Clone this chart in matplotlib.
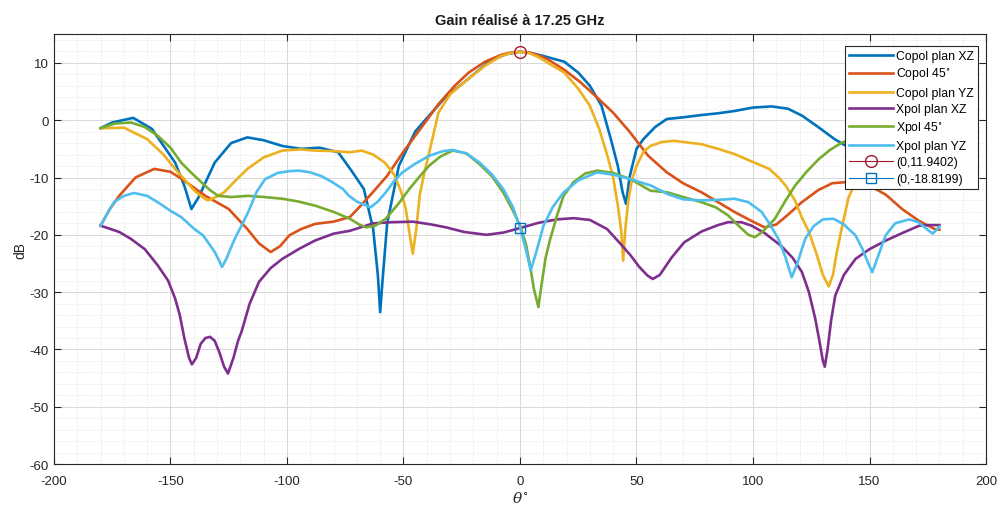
import numpy as np
import matplotlib
matplotlib.use("Agg")
import matplotlib.pyplot as plt
from matplotlib.ticker import MultipleLocator

plt.rcParams['font.family'] = ['Liberation Sans', 'DejaVu Sans']
plt.rcParams['mathtext.fontset'] = 'dejavuserif'
plt.rcParams['axes.unicode_minus'] = False

# ---- data (theta in degrees, gain in dB) ----
copol_xz_t = [-180, -175, -166, -158, -148, -144, -141, -138, -131, -124, -117, -110, -102, -94,
              -86, -78, -72, -67, -63, -61, -60, -59, -57, -52, -45, -39, -32, -24, -13, -6, 0, 5,
              10, 19, 25, 30, 35, 39, 42, 44, 45.5, 47, 50, 53, 58, 63, 70, 78, 85, 92, 100, 108,
              115, 121, 128, 135, 140, 150, 160, 170, 180]
copol_xz_g = [-1.4, -0.4, 0.4, -1.5, -7.4, -11.5, -15.5, -13.5, -7.4, -4.0, -3.0, -3.5, -4.5, -5.0,
              -4.8, -5.6, -9, -12, -19, -27, -33.5, -28, -18, -8, -2, 0.8, 4, 6.6, 10.3, 11.5, 11.94,
              11.7, 11.2, 10.2, 8.3, 6, 2.5, -3.3, -8, -12.5, -14.6, -10, -5, -3.3, -1.2, 0.2, 0.5,
              0.9, 1.2, 1.6, 2.2, 2.4, 2.0, 0.8, -1.2, -3.3, -4.5, -4, -3, -2, -1.4]

copol_45_t = [-180, -176, -172, -165, -157, -150, -145, -135, -125, -117, -112, -107, -103, -99, -94,
              -88, -80, -73, -69, -63, -57, -50, -46, -40, -35, -28, -22, -15, -8, -4, 0, 4, 8, 12,
              19, 26, 33, 40, 47, 55, 63, 70, 78, 85, 92, 99, 105, 110, 115, 121, 128, 134, 140,
              145, 150, 157, 164, 171, 178, 180]
copol_45_g = [-18.4, -15.5, -13.2, -10, -8.5, -9, -10.3, -13.2, -15.5, -19, -21.5, -23, -22, -20.1, -19,
              -18.1, -17.7, -16.9, -15.2, -12.5, -9.7, -5.5, -3.3, 0, 2.8, 6, 8.3, 10.2, 11.4, 11.8,
              11.94, 11.8, 11.3, 10.6, 8.8, 6.6, 4.0, 1.3, -2.0, -6.2, -9.1, -11, -12.6, -14.3, -16,
              -17.5, -18.7, -18.2, -16.5, -14.3, -12.2, -11, -10.8, -11, -11.4, -13, -15.5, -17.5,
              -19, -19.1]

copol_yz_t = [-180, -170, -160, -153, -148, -143, -139.7, -136, -134, -131, -127, -122, -117, -110,
              -102, -94, -88, -80, -73, -68, -63, -58, -54, -51, -49, -47.5, -46, -44.5, -43, -41,
              -38, -35, -30, -24, -15, -8, -4, 0, 4, 8, 14, 19, 25, 30, 34, 37.5, 40, 42, 43.5, 44.3,
              45.2, 46.5, 48, 50, 53, 56, 61, 66, 72, 78, 85, 92, 100, 107, 111, 114, 118, 121, 124,
              127, 130, 132.5, 134.3, 136, 138, 141, 144, 148, 155, 165, 175, 180]
copol_yz_g = [-1.4, -1.3, -3.3, -6, -8.5, -10.8, -12.3, -13.5, -14, -13.5, -12.6, -10.5, -8.5, -6.5,
              -5.3, -5.1, -5.3, -5.4, -5.6, -5.3, -6, -7.4, -9.5, -12.5, -15.5, -19.5, -23.3, -19,
              -13, -9.1, -4, 1.3, 4.5, 6.6, 9.5, 11.2, 11.7, 11.94, 11.7, 11, 9.5, 8.3, 5.5, 2.5,
              -1.5, -6.2, -10, -14.9, -19.5, -24.5, -19, -14, -10.5, -8, -5.5, -4.5, -3.8, -3.6,
              -3.9, -4.2, -5, -5.9, -7.3, -8.5, -10, -11.4, -14, -17, -19.5, -23, -27, -29, -27,
              -23, -19, -13.5, -10.8, -8, -5, -3, -1.4, -1.4]

xpol_xz_t = [-180, -172, -167, -161, -155.5, -151, -148, -146, -144, -142, -140.8, -139, -137, -135,
             -133, -131, -129, -127, -125.3, -123, -121, -119.5, -116, -112, -107, -102, -95, -88,
             -80, -73, -63, -55, -46, -38, -31.7, -24, -14.4, -7, 0, 8, 16, 23, 30, 37.4, 43, 47.5,
             51, 54.7, 57, 60, 65, 70.5, 78, 85, 89.3, 95, 99.4, 105, 112, 117, 121, 124, 126.7,
             128.5, 130, 130.8, 132, 133.5, 135.3, 139, 144, 150, 157, 164, 171.4, 176, 180]
xpol_xz_g = [-18.4, -19.5, -20.7, -22.5, -25.3, -28, -31.1, -34, -38.1, -41.5, -42.6, -41.5, -39, -38,
             -37.8, -38.5, -40.5, -43, -44.2, -41.5, -38.5, -36.9, -32, -28.2, -25.8, -24.2, -22.5,
             -21, -19.8, -19.3, -18, -17.8, -17.7, -18.2, -18.7, -19.5, -20, -19.6, -18.82, -17.9,
             -17.3, -17.1, -17.4, -19, -21.5, -23.6, -25.5, -27.1, -27.7, -27, -24, -21.3, -19.4,
             -18.3, -17.8, -17.8, -18.4, -19.7, -21.9, -24, -26.5, -30, -34.6, -38.5, -42, -43,
             -40, -35, -30.6, -27, -24.2, -22.5, -21, -19.7, -18.4, -18.3, -18.3]

xpol_45_t = [-180, -174, -167, -161, -155.5, -150, -145.4, -141, -136.8, -133, -129.6, -124, -116.6,
             -110, -102, -95, -88, -80, -73, -69, -66, -62, -57.6, -52, -47.5, -43, -38.9, -34,
             -28.8, -23, -17.3, -12, -7.2, -3, 0, 2.5, 4.3, 6, 7.9, 9.5, 11, 13, 16, 18.7, 23, 28,
             33.1, 40, 47.5, 56, 63.4, 70, 77.8, 84, 89.3, 94, 98, 100.8, 104, 109.4, 114, 118.1,
             123, 128.2, 133, 138.2, 145, 155, 165, 175, 180]
xpol_45_g = [-1.4, -0.6, -0.4, -1.2, -2.7, -4.8, -7.4, -9.2, -10.8, -12.2, -13.2, -13.4, -13.2, -13.4,
             -13.7, -14.2, -14.9, -16, -17.2, -18.2, -18.7, -18.4, -17.2, -14.5, -12, -9.8, -7.9,
             -6.3, -5.3, -5.8, -7.7, -9.8, -12.6, -15.8, -18.4, -21.5, -25.3, -29.5, -32.6, -28,
             -24, -20.7, -16.5, -13.2, -10.8, -9.3, -8.8, -9.2, -10.3, -12.3, -12.6, -13.4, -14.3,
             -15.2, -16.6, -18.5, -20, -20.4, -19.5, -17.2, -14, -11.4, -9, -6.8, -5.2, -3.9, -3,
             -2.3, -1.8, -1.5, -1.4]

xpol_yz_t = [-180, -177, -174.2, -170, -165.6, -160, -155.5, -150, -145.4, -139.7, -136, -133.9, -131,
             -129, -127.9, -126, -124, -122.4, -119, -116.6, -113, -109.4, -104, -99, -95, -90, -85,
             -80.6, -76, -73.4, -70, -67.7, -64.1, -61, -57.6, -54, -50.4, -45, -38.9, -33, -28.8,
             -23, -17.3, -12, -7.2, -3, 0, 2.5, 4.6, 7, 10.1, 14, 18.7, 25, 33.1, 40, 47.5, 56.2,
             63.4, 70, 77.8, 85, 92.1, 98, 103.7, 107, 110.9, 114, 116.6, 119, 122.4, 126, 130,
             134.6, 139, 144, 147, 149.5, 151.2, 153, 156.9, 161, 167, 171, 174, 177.1, 180]
xpol_yz_g = [-18.4, -16.2, -14.3, -13.2, -12.7, -13.2, -14.3, -15.8, -16.9, -19, -20.1, -21.3, -23,
             -24.6, -25.6, -24.2, -22.2, -20.7, -18, -16, -12.5, -10.3, -9.2, -8.9, -8.8, -9.1, -9.8,
             -10.8, -12, -13.2, -14.2, -14.6, -15.2, -14.2, -12.6, -10.6, -9.1, -7.6, -6.2, -5.4,
             -5.2, -5.8, -7.4, -9.5, -12, -15.2, -18.7, -22.5, -26.2, -23, -18.4, -15.2, -12.6,
             -10.5, -9.1, -9.5, -10.3, -11.4, -12.9, -13.8, -14, -13.9, -13.7, -14.3, -16, -18,
             -20.7, -24, -27.4, -25, -20.7, -18.5, -17.3, -17.2, -18.2, -20.1, -22.5, -25, -26.5,
             -24.5, -20.1, -18, -17.3, -17.8, -18.8, -19.8, -18.6]

series = [
    ("Copol plan XZ", copol_xz_t, copol_xz_g, "#0072BD"),
    ("Copol 45$^{\\circ}$", copol_45_t, copol_45_g, "#D95319"),
    ("Copol plan YZ", copol_yz_t, copol_yz_g, "#EDB120"),
    ("Xpol plan XZ", xpol_xz_t, xpol_xz_g, "#7E2F8E"),
    ("Xpol 45$^{\\circ}$", xpol_45_t, xpol_45_g, "#77AC30"),
    ("Xpol plan YZ", xpol_yz_t, xpol_yz_g, "#4DBEEE"),
]

peak_pt = (0, 11.9402)
xpol_pt = (0, -18.8199)

fig = plt.figure(figsize=(9.99, 5.10), dpi=100)
ax = fig.add_axes([0.054, 0.088, 0.933, 0.843])

for name, t, g, c in series:
    ax.plot(t, g, color=c, lw=1.9, label=name, solid_joinstyle='round')

ax.plot([peak_pt[0]], [peak_pt[1]], '-o', color='#A2142F', lw=0.8, ms=8.5,
        mfc='none', mew=1.0, label="(0,11.9402)")
ax.plot([xpol_pt[0]], [xpol_pt[1]], '-s', color='#0072BD', lw=0.8, ms=6.5,
        mfc='none', mew=1.0, label="(0,-18.8199)")

ax.set_xlim(-200, 200)
ax.set_ylim(-60, 15)
ax.xaxis.set_major_locator(MultipleLocator(50))
ax.xaxis.set_minor_locator(MultipleLocator(10))
ax.yaxis.set_major_locator(MultipleLocator(10))
ax.yaxis.set_minor_locator(MultipleLocator(2))

ax.grid(which='major', color='#d8d8d8', lw=0.7, ls='-')
ax.grid(which='minor', color='#e2e2e2', lw=0.6, ls=(0, (1.5, 2)))
ax.set_axisbelow(True)
ax.tick_params(which='both', direction='in', top=True, right=True, labelsize=9.5,
               colors='#262626')
ax.tick_params(which='major', length=5)
ax.tick_params(which='minor', length=0)
ax.tick_params(axis='x', pad=8)
for s in ax.spines.values():
    s.set_color('#262626')
    s.set_linewidth(0.8)

ax.set_title("Gain réalisé à 17.25 GHz", fontsize=10.5, fontweight='bold', pad=7,
             color='#1a1a1a')
ax.set_xlabel("$\\theta^{\\circ}$", fontsize=11, color='#262626', labelpad=2)
ax.set_ylabel("dB", fontsize=10, color='#262626', labelpad=2)

leg = ax.legend(loc='upper right', bbox_to_anchor=(0.9914, 0.972), fontsize=8.8,
                handlelength=3.6, handletextpad=0.3, borderaxespad=0.0, fancybox=False,
                framealpha=1, edgecolor='#262626', labelspacing=0.36, borderpad=0.3)
leg.get_frame().set_linewidth(0.8)

fig.savefig("out.png", dpi=100)
